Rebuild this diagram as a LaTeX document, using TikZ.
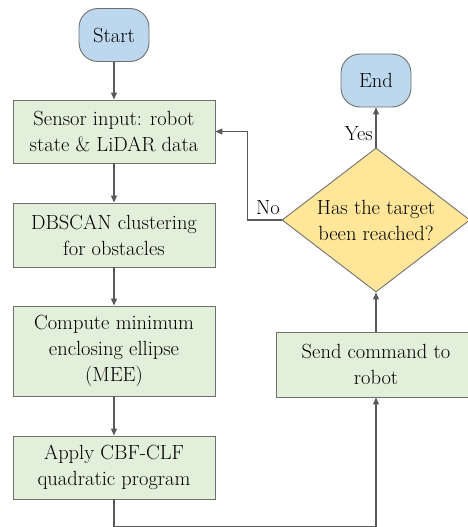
\documentclass[tikz,border=0pt]{standalone}
\usetikzlibrary{shapes.geometric,arrows.meta}

\definecolor{termblue}{HTML}{BDD7EE}
\definecolor{stepgreen}{HTML}{E2EFDA}
\definecolor{askyellow}{HTML}{FFE699}
\definecolor{edgegray}{HTML}{707070}
\definecolor{linegray}{HTML}{595959}

\begin{document}
\begin{tikzpicture}[x=1pt, y=-1pt,
	font=\fontsize{20.5}{26}\selectfont,
	term/.style={draw=edgegray, line width=0.9pt, fill=termblue, rounded corners=19pt,
		minimum width=70pt, minimum height=53pt, inner sep=0pt},
	stepbox/.style={draw=edgegray, line width=0.9pt, fill=stepgreen, align=center,
		minimum width=202pt, inner sep=0pt},
	ask/.style={diamond, draw=edgegray, line width=0.9pt, fill=askyellow, align=center,
		aspect=1.3, inner sep=0pt, minimum width=188pt, minimum height=144pt},
	flow/.style={draw=linegray, line width=1.1pt, -{Triangle[length=7pt, width=6pt]}}]

	% 画布大小
	\useasboundingbox (0, 0) rectangle (468, 527);

	% 左边一列
	\node[term] (start) at (114, 35) {Start};
	\node[stepbox, minimum height=63pt] (sensor) at (114, 131.5)
		{Sensor input: robot\\state \& LiDAR data};
	\node[stepbox, minimum height=64pt] (dbscan) at (114, 235)
		{DBSCAN clustering\\for obstacles};
	\node[stepbox, minimum height=90pt] (mee) at (114, 351)
		{Compute minimum\\enclosing ellipse\\(MEE)};
	\node[stepbox, minimum height=63pt] (qp) at (114, 467.5)
		{Apply CBF-CLF\\quadratic program};

	% 右边一列
	\node[term] (end) at (376, 80.5) {End};
	\node[ask] (reached) at (376, 220) {Has the target\\been reached?};
	\node[stepbox, minimum width=200pt, minimum height=65pt] (send) at (376, 364.5)
		{Send command to\\robot};

	% 连线
	\draw[flow] (start) -- (sensor);
	\draw[flow] (sensor) -- (dbscan);
	\draw[flow] (dbscan) -- (mee);
	\draw[flow] (mee) -- (qp);
	\draw[flow] (qp.south) -- ++(0, 27.5) -| (send.south);
	\draw[flow] (send) -- (reached);
	\draw[flow] (reached) -- (end);
	\draw[flow] (reached.west) -- ++(-34, 0) |- (sensor.east);

	% 判断的标识符
	\node[anchor=east, inner sep=3pt] (yes) at (376, 134) {Yes};
	\node[anchor=south east, inner sep=2pt] (no) at (282, 217) {No};
\end{tikzpicture}
\end{document}
